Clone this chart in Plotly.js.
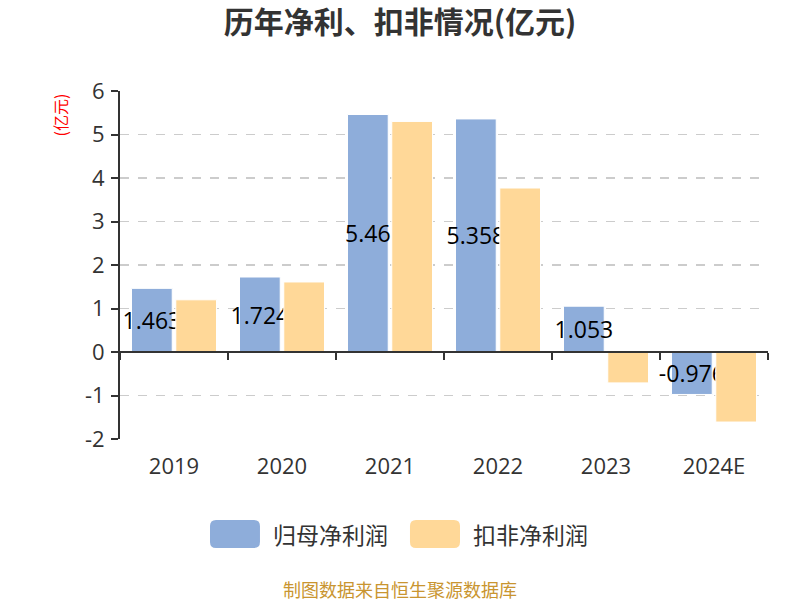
<!DOCTYPE html>
<html><head><meta charset="utf-8">
<script src="https://cdn.plot.ly/plotly-3.0.1.min.js"></script>
<style>html,body{margin:0;padding:0;background:#fff}#chart{width:800px;height:600px}</style>
</head><body><div id="chart"></div>
<script>
const years = ['2019','2020','2021','2022','2023','2024E'];
const netProfit = [1.463, 1.724, 5.46, 5.358, 1.053, -0.976];
const deductedProfit = [1.20, 1.61, 5.30, 3.77, -0.71, -1.61];
const netLabels = ['1.463','1.724','5.46','5.358','1.053','-0.976'];
const seriesNames = ['归母净利润','扣非净利润'];
const seriesColors = ['#8eadda','#ffd898'];
const yTicks = [-2,-1,0,1,2,3,4,5,6];
const yTickText = ['-2','-1','0','1','2','3','4','5','6'];

const FONT = '"Noto Sans CJK SC", "Noto Sans", sans-serif';
const NUMFONT = '"Open Sans", "Noto Sans CJK SC", sans-serif';
const traces = [
  {type:'bar', name:seriesNames[0], x:years, y:netProfit, text:netLabels,
   textposition:'inside', insidetextanchor:'middle', textangle:0, constraintext:'none', cliponaxis:false,
   textfont:{size:23, color:'#000', family:NUMFONT},
   marker:{color:seriesColors[0], line:{color:'#ffffff', width:1}}, hoverinfo:'skip', showlegend:false},
  {type:'bar', name:seriesNames[1], x:years, y:deductedProfit,
   marker:{color:seriesColors[1], line:{color:'#ffffff', width:1}}, hoverinfo:'skip', showlegend:false},
  {type:'scatter', x:[], y:[], xaxis:'x2', showlegend:false, hoverinfo:'skip'}
];

function rrect(x0,y0,x1,y1,rx,ry){
  return `M${x0+rx},${y0} L${x1-rx},${y0} Q${x1},${y0} ${x1},${y0-ry} L${x1},${y1+ry} Q${x1},${y1} ${x1-rx},${y1} L${x0+rx},${y1} Q${x0},${y1} ${x0},${y1+ry} L${x0},${y0-ry} Q${x0},${y0} ${x0+rx},${y0} Z`;
}
const rx = 6/648, ry = 6/348;
const legendItems = [
  {x0:0.1389, x1:0.2160, tx:0.2330},
  {x0:0.4475, x1:0.5247, tx:0.5420}
];
const shapes = legendItems.map((it,i)=>({type:'path', xref:'paper', yref:'paper',
  path:rrect(it.x0,-0.2328,it.x1,-0.3132,rx,ry), fillcolor:seriesColors[i], line:{width:0}}));
const legendAnn = legendItems.map((it,i)=>({text:seriesNames[i], xref:'paper', yref:'paper', x:it.tx, y:-0.273,
  xanchor:'left', yanchor:'middle', showarrow:false, font:{size:23, color:'#333', family:FONT}}));

const layout = {
  width:800, height:600,
  margin:{l:120, r:32, t:91, b:161},
  paper_bgcolor:'#fff', plot_bgcolor:'#fff',
  font:{family:FONT, color:'#333'},
  showlegend:false,
  title:{text:'<b>历年净利、扣非情况(亿元)</b>', x:0.5, xanchor:'center', y:0.963, yanchor:'middle',
         font:{size:30, color:'#333', family:FONT}},
  barmode:'group', bargap:0.18, bargroupgap:0.08,
  xaxis:{type:'category', categoryarray:years, range:[-0.5,5.5], showline:false, ticks:'',
         showgrid:false, zeroline:false, tickfont:{size:22, color:'#333', family:NUMFONT}, ticklabelstandoff:12},
  xaxis2:{overlaying:'x', anchor:'free', position:0.25, range:[-0.5,5.5],
          tickvals:[-0.5,0.5,1.5,2.5,3.5,4.5,5.5], showticklabels:false,
          showline:true, linecolor:'#333', linewidth:2, ticks:'outside', ticklen:7, tickwidth:2, tickcolor:'#333',
          showgrid:false, zeroline:false},
  yaxis:{range:[-2,6], tickvals:yTicks, ticktext:yTickText, showline:true, linecolor:'#333', linewidth:2,
         ticks:'outside', ticklen:7, tickwidth:2, tickcolor:'#333',
         gridcolor:'#cccccc', griddash:'dash', gridwidth:1.5, zeroline:false,
         tickfont:{size:22, color:'#333', family:NUMFONT}, ticklabelstandoff:2},
  shapes:shapes,
  annotations:[
    {text:'(亿元)', xref:'paper', yref:'paper', x:-0.0926, y:1.0, xanchor:'center', yanchor:'top',
     textangle:-90, showarrow:false, font:{size:16, color:'#ff0000', family:FONT}},
    {text:'制图数据来自恒生聚源数据库', xref:'paper', yref:'paper', x:0.432, y:-0.43, xanchor:'center', yanchor:'middle',
     showarrow:false, font:{size:18, color:'#c99530', family:FONT}}
  ].concat(legendAnn)
};
Plotly.newPlot('chart', traces, layout, {displayModeBar:false, staticPlot:true});
</script></body></html>
